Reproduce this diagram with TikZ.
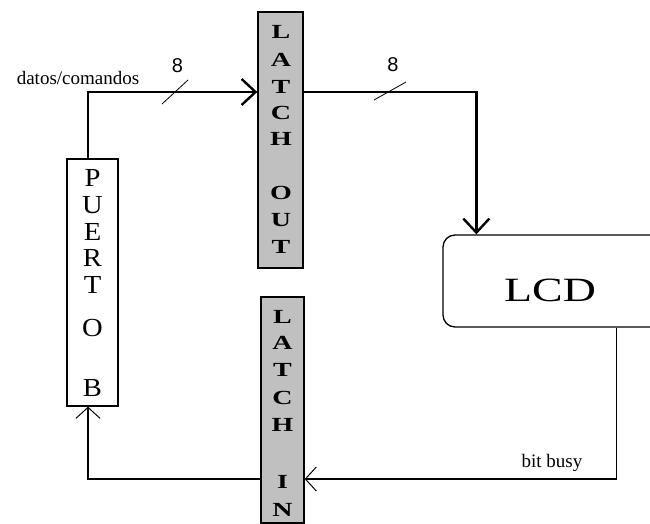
\documentclass[tikz,border=0pt]{standalone}
\usepackage{fontspec}
\setmainfont{Liberation Serif}
\newfontfamily\numfont{Liberation Sans}
\usetikzlibrary{arrows.meta}
\definecolor{latchgray}{HTML}{C0C0C0}
\begin{document}
\begin{tikzpicture}[x=1pt,y=-1pt,
  latchbox/.style={draw, fill=latchgray, line width=1.3pt, inner sep=0pt},
  portbox/.style={draw, fill=white, line width=1.3pt, inner sep=0pt},
  lcdbox/.style={draw, line width=1.3pt, rounded corners=12pt, inner sep=0pt},
  letter/.style={inner sep=0pt, xscale=1.4, font=\bfseries\fontsize{20}{20}\selectfont},
  pletter/.style={inner sep=0pt, xscale=1.1, font=\fontsize{26}{26}\selectfont},
  busthick/.style={line width=2.6pt},
  busthin/.style={line width=1.2pt},
  barbbig/.style={-{Straight Barb[length=14pt,width=26pt,line width=2.4pt]}},
  barbsmall/.style={-{Straight Barb[length=11pt,width=24pt,line width=1pt]}},
  tick/.style={line width=0.8pt},
  lbl/.style={inner sep=0pt}]
\path[use as bounding box, clip] (0,0) rectangle (650,524);
\fill[white] (0,0) rectangle (650,524);

% boxes
\node[latchbox, minimum width=45pt, minimum height=256pt] (lout) at (280.5,140) {};
\node[latchbox, minimum width=43pt, minimum height=226pt] (lin) at (282.5,410) {};
\node[portbox, minimum width=51pt, minimum height=247pt] (pb) at (92.5,282.5) {};
\node[lcdbox, minimum width=262pt, minimum height=92pt] (lcd) at (574,281) {};
\node[inner sep=0pt, xscale=1.35, font=\fontsize{34}{34}\selectfont] (lcdt) at (550,290) {LCD};

% letters
\foreach \c/\y [count=\i] in {L/32,A/60,T/87,C/113,H/139,O/193,U/220,T/247}
  \node[letter] (lo\i) at (281,\y) {\c};
\foreach \c/\y [count=\i] in {L/317,A/343,T/370,C/398,H/425,I/482,N/510}
  \node[letter] (li\i) at (282.5,\y) {\c};
\foreach \c/\y [count=\i] in {P/178,U/205,E/232,R/258,T/285,O/328,B/388}
  \node[pletter] (pl\i) at (92.5,\y) {\c};

% level coordinates
\coordinate (ytop) at (0,92);
\coordinate (ybot) at (0,479);
\coordinate (pbtop) at ([xshift=-4.5pt]pb.north);
\coordinate (pbbot) at ([xshift=-4.5pt]pb.south);
\coordinate (lcdin) at ([xshift=34pt]lcd.north west);
\coordinate (lcdout) at ([xshift=174pt]lcd.south west);

% connectors
\draw[busthick, barbbig] (pbtop) |- (lout.west |- ytop);
\draw[busthick, barbbig] (lout.east |- ytop) -| (lcdin);
\draw[busthin, barbsmall] (lcdout) |- (lin.east |- ybot);
\draw[busthin, barbsmall] (lin.west |- ybot) -| (pbbot);

% bus width ticks
\coordinate (t1) at (175,92);
\coordinate (t2) at (390,91);
\draw[tick] ([shift={(-13,12)}]t1) -- ([shift={(13,-12)}]t1);
\draw[tick] ([shift={(-16,9)}]t2) -- ([shift={(16,-9)}]t2);

% labels
\node[lbl, font=\fontsize{19}{19}\selectfont] (dc) at (78,78) {datos/comandos};
\node[lbl, font=\numfont\fontsize{20}{20}\selectfont] (n1) at (177.5,65.5) {8};
\node[lbl, font=\numfont\fontsize{20}{20}\selectfont] (n2) at (393,65) {8};
\node[lbl, font=\fontsize{19}{19}\selectfont] (bb) at (552,463) {bit busy};
\end{tikzpicture}
\end{document}
